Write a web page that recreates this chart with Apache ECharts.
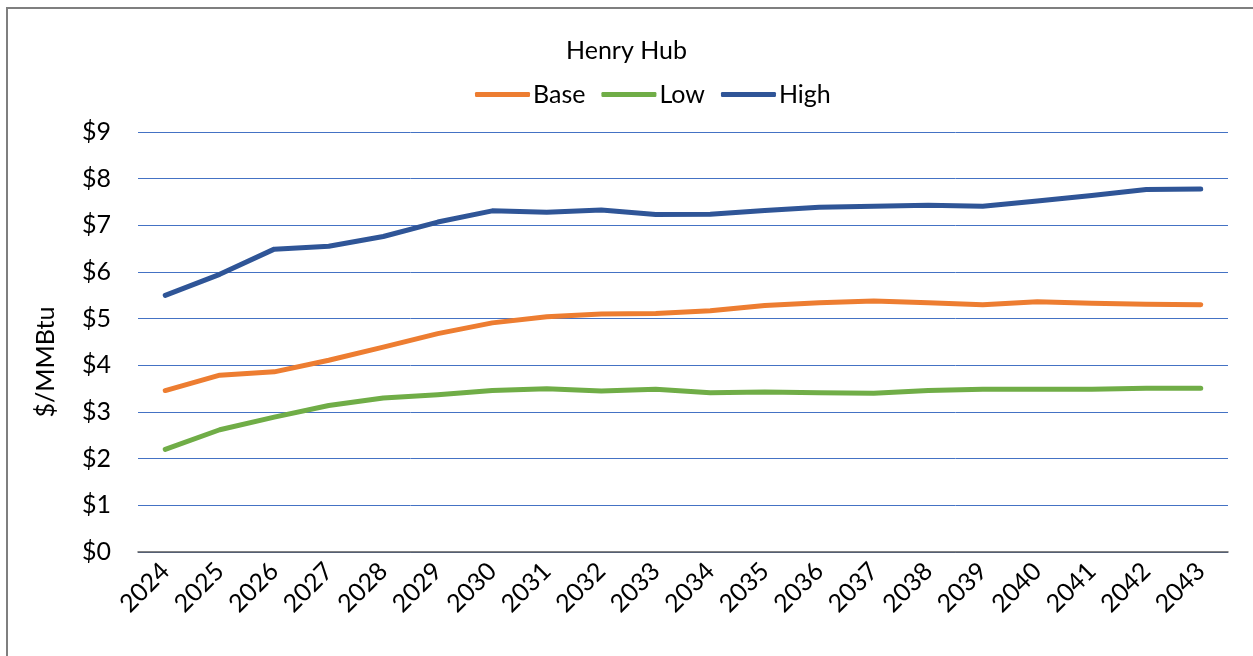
<!DOCTYPE html>
<html>
<head>
<meta charset="utf-8">
<script src="https://cdn.jsdelivr.net/npm/echarts@6/dist/echarts.min.js"></script>
<style>html,body{margin:0;padding:0;background:#fff;}#c{width:1253px;height:656px;}</style>
</head>
<body>
<div id="c"></div>
<script>
const years = ['2024','2025','2026','2027','2028','2029','2030','2031','2032','2033','2034','2035','2036','2037','2038','2039','2040','2041','2042','2043'];
const baseVals = [3.46,3.79,3.86,4.11,4.39,4.68,4.91,5.04,5.10,5.11,5.17,5.28,5.34,5.38,5.34,5.30,5.36,5.33,5.31,5.30];
const lowVals  = [2.20,2.62,2.89,3.14,3.30,3.37,3.46,3.50,3.45,3.49,3.41,3.43,3.41,3.40,3.46,3.49,3.49,3.49,3.51,3.51];
const highVals = [5.50,5.95,6.49,6.55,6.76,7.07,7.31,7.28,7.33,7.23,7.24,7.32,7.39,7.41,7.43,7.41,7.52,7.64,7.77,7.78];
const seriesNames = ['Base','Low','High'];
const colors = ['#ED7D31','#70AD47','#2F5597'];
const yTicks = [0,1,2,3,4,5,6,7,8,9];

const FONT = 'Lato';
const FS = 25;
const chart = echarts.init(document.getElementById('c'), null, {renderer:'canvas'});
const mk = (name, data, color) => ({
  name, type:'line', data, showSymbol:false, symbol:'none',
  lineStyle:{color, width:5, cap:'round', join:'round'},
  itemStyle:{color}, animation:false
});
chart.setOption({
  animation:false,
  backgroundColor:'#fff',
  textStyle:{fontFamily:FONT},
  title:{text:'Henry Hub', left:'center', top:33,
    textStyle:{fontFamily:FONT, fontSize:FS, fontWeight:'normal', color:'#000'}},
  legend:{data:seriesNames, left:470, top:77, itemWidth:55, itemHeight:5, itemGap:16,
    icon:'roundRect',
    textStyle:{fontFamily:FONT, fontSize:FS, color:'#000', padding:[0,0,0,-2]}},
  grid:{left:138, right:25, top:132, bottom:104},
  xAxis:{type:'category', data:years, boundaryGap:true,
    axisLine:{lineStyle:{color:'#595959', width:1.5}},
    axisTick:{show:false},
    axisLabel:{rotate:45, fontSize:FS, color:'#000', fontFamily:FONT, margin:15, interval:0}},
  yAxis:{type:'value', min:yTicks[0], max:yTicks[yTicks.length-1], interval:1,
    axisLine:{show:false}, axisTick:{show:false},
    axisLabel:{formatter:v=>'$'+v, fontSize:FS, color:'#000', fontFamily:FONT, margin:27},
    splitLine:{lineStyle:{color:'#4472C4', width:1}}},
  graphic:[
    {type:'rect', shape:{x:7,y:8,width:1300,height:700}, style:{fill:'none', stroke:'#7f7f7f', lineWidth:2}, silent:true},
    {type:'text', x:46, y:362, rotation:Math.PI/2,
      style:{text:'$/MMBtu', fill:'#000', font:FS+'px '+FONT, textAlign:'center', textVerticalAlign:'middle'}}
  ],
  series:[mk(seriesNames[0], baseVals, colors[0]), mk(seriesNames[1], lowVals, colors[1]), mk(seriesNames[2], highVals, colors[2])]
});
</script>
</body>
</html>
